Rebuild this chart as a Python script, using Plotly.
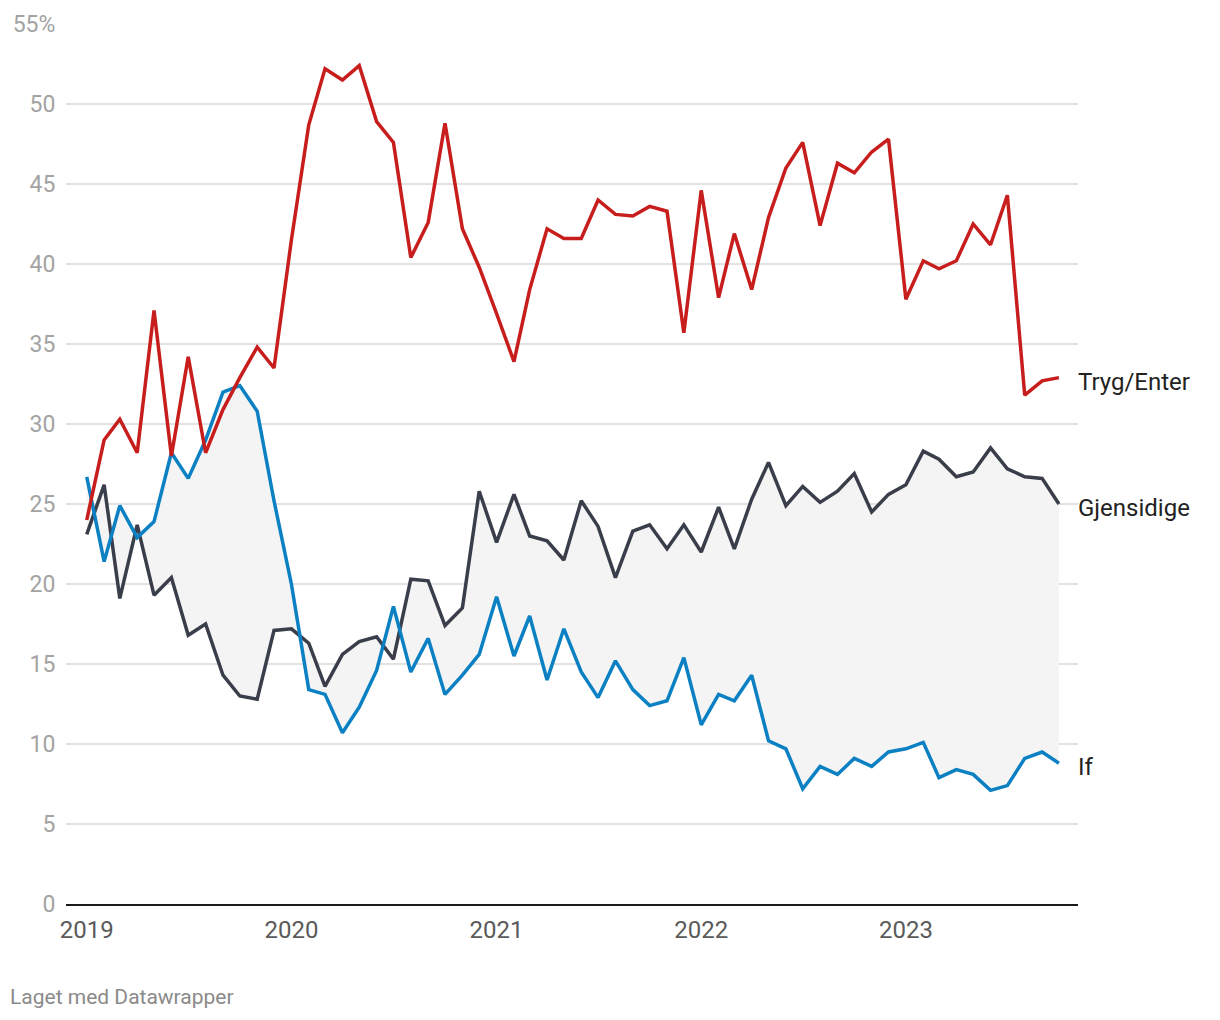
import pandas as pd
import plotly.graph_objects as go

months = pd.date_range("2019-01-01", periods=58, freq="MS")

tryg = [24.0, 29.0, 30.3, 28.2, 37.1, 28.0, 34.2, 28.2, 30.9, 32.9, 34.8, 33.5,
        41.5, 48.7, 52.2, 51.5, 52.4, 48.9, 47.6, 40.4, 42.6, 48.8, 42.2, 39.8,
        36.9, 33.9, 38.4, 42.2, 41.6, 41.6, 44.0, 43.1, 43.0, 43.6, 43.3, 35.7,
        44.6, 37.9, 41.9, 38.4, 42.9, 46.0, 47.6, 42.4, 46.3, 45.7, 47.0, 47.8,
        37.8, 40.2, 39.7, 40.2, 42.5, 41.2, 44.3, 31.8, 32.7, 32.9]

gjensidige = [23.1, 26.2, 19.1, 23.7, 19.3, 20.4, 16.8, 17.5, 14.3, 13.0, 12.8, 17.1,
              17.2, 16.3, 13.6, 15.6, 16.4, 16.7, 15.3, 20.3, 20.2, 17.4, 18.5, 25.8,
              22.6, 25.6, 23.0, 22.7, 21.5, 25.2, 23.6, 20.4, 23.3, 23.7, 22.2, 23.7,
              22.0, 24.8, 22.2, 25.3, 27.6, 24.9, 26.1, 25.1, 25.8, 26.9, 24.5, 25.6,
              26.2, 28.3, 27.8, 26.7, 27.0, 28.5, 27.2, 26.7, 26.6, 25.0]

if_vals = [26.7, 21.4, 24.9, 22.9, 23.9, 28.2, 26.6, 29.0, 32.0, 32.4, 30.8, 25.2,
           20.0, 13.4, 13.1, 10.7, 12.3, 14.6, 18.6, 14.5, 16.6, 13.1, 14.3, 15.6,
           19.2, 15.5, 18.0, 14.0, 17.2, 14.5, 12.9, 15.2, 13.4, 12.4, 12.7, 15.4,
           11.2, 13.1, 12.7, 14.3, 10.2, 9.7, 7.2, 8.6, 8.1, 9.1, 8.6, 9.5,
           9.7, 10.1, 7.9, 8.4, 8.1, 7.1, 7.4, 9.1, 9.5, 8.8]

series_names = ["Tryg/Enter", "Gjensidige", "If"]
colors = {"Tryg/Enter": "#c71e1d", "Gjensidige": "#3a3e4b", "If": "#0b80c2"}

y_ticks = [0, 5, 10, 15, 20, 25, 30, 35, 40, 45, 50, 55]
y_ticktext = [str(v) for v in y_ticks[:-1]] + ["55%"]
x_ticks = ["2019-01-01", "2020-01-01", "2021-01-01", "2022-01-01", "2023-01-01"]
x_ticktext = ["2019", "2020", "2021", "2022", "2023"]

FONT = "Roboto"

fig = go.Figure()

# Fill between If and Gjensidige
fig.add_trace(go.Scatter(x=months, y=if_vals, mode="lines", line=dict(width=0),
                         hoverinfo="skip", showlegend=False))
fig.add_trace(go.Scatter(x=months, y=gjensidige, mode="lines", line=dict(width=0),
                         fill="tonexty", fillcolor="#f4f4f4",
                         hoverinfo="skip", showlegend=False))

data = {"Tryg/Enter": tryg, "Gjensidige": gjensidige, "If": if_vals}
for name in ["Gjensidige", "If", "Tryg/Enter"]:
    fig.add_trace(go.Scatter(x=months, y=data[name], mode="lines", name=name,
                             line=dict(color=colors[name], width=3.5),
                             showlegend=False, cliponaxis=False))

for name in series_names:
    fig.add_annotation(x=1, xref="paper", y=data[name][-1], yref="y",
                       text=name, showarrow=False, xanchor="left", yanchor="middle",
                       xshift=-2, yshift=-4,
                       font=dict(family=FONT, size=24, color="#222222"))

fig.add_annotation(x=-0.0553, xref="paper", y=-0.1057, yref="paper",
                   text="Laget med Datawrapper", showarrow=False,
                   xanchor="left", yanchor="middle", xshift=-2,
                   font=dict(family=FONT, size=21, color="#8a8a8a"))

fig.update_layout(
    width=1212, height=1012,
    margin=dict(l=58, r=142, t=16, b=116, autoexpand=False),
    paper_bgcolor="white", plot_bgcolor="white",
    font=dict(family=FONT),
    xaxis=dict(
        type="date", automargin=False,
        range=["2018-11-25", "2023-11-04"],
        tickvals=x_ticks, ticktext=x_ticktext,
        showgrid=False, zeroline=False,
        showline=True, linecolor="#1a1a1a", linewidth=2,
        ticks="outside", ticklen=3, tickcolor="rgba(0,0,0,0)",
        tickfont=dict(family=FONT, size=24, color="#5a5a5a"),
    ),
    yaxis=dict(
        automargin=False,
        range=[0, 55],
        tickvals=y_ticks, ticktext=y_ticktext,
        showgrid=True, gridcolor="#e2e2e2", gridwidth=1.5,
        zeroline=False, showline=False,
        ticks="outside", ticklen=5, tickcolor="rgba(0,0,0,0)",
        tickfont=dict(family=FONT, size=23, color="#a3a3a3"),
    ),
)

fig.write_html("out.html")
